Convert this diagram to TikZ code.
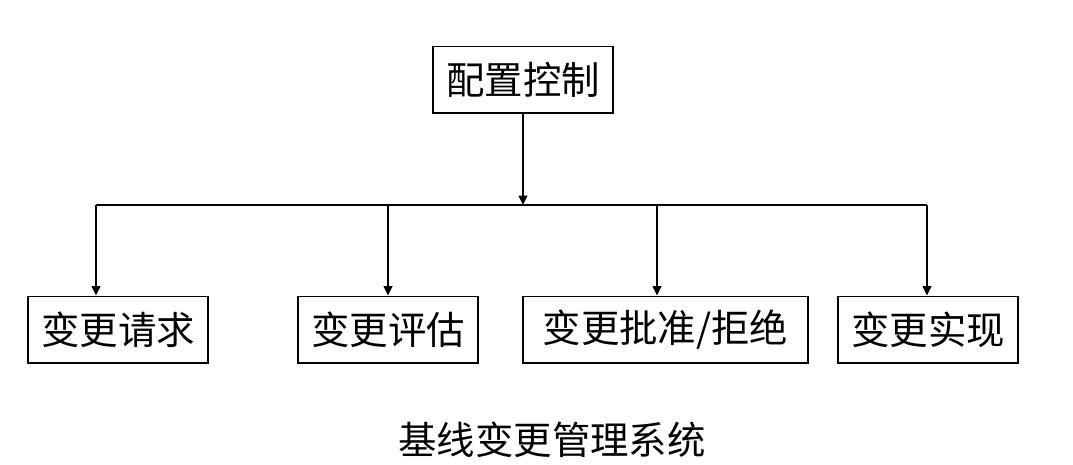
\documentclass[tikz,border=0pt]{standalone}
\usepackage{fontspec}
\setmainfont{Liberation Serif}
\newfontfamily\cjk{Noto Sans CJK SC}
\usetikzlibrary{arrows.meta}
\begin{document}
\begin{tikzpicture}[x=0.75pt,y=-0.75pt,
  box/.style={draw,line width=1pt,inner sep=0pt,minimum height=50pt,font=\cjk\fontsize{28.8}{32}\selectfont},
  conn/.style={line width=1.1pt},
  arr/.style={conn,-{Triangle[length=7pt,width=6.5pt]}},
  title/.style={font=\cjk\fontsize{28.8}{32}\selectfont}]
\useasboundingbox (0,0) rectangle (1073,464);
\node[box,minimum width=135pt] (top) at (523,79.5) {配置控制};
\node[box,minimum width=135pt] (b1) at (118,329.5) {变更请求};
\node[box,minimum width=135pt] (b2) at (388,329.5) {变更评估};
\node[box,minimum width=213.75pt] (b3) at (665.5,329.5) {变更批准/拒绝};
\node[box,minimum width=135pt] (b4) at (928,329.5) {变更实现};
\coordinate (j1) at (96,205);
\coordinate (j2) at (388,205);
\coordinate (jm) at (523,205);
\coordinate (j3) at (657,205);
\coordinate (j4) at (927,205);
\draw[conn] (j1) -- (j4);
\draw[arr] (top.south) -- (jm);
\draw[arr] (j1) -- (j1 |- b1.north);
\draw[arr] (j2) -- (j2 |- b2.north);
\draw[arr] (j3) -- (j3 |- b3.north);
\draw[arr] (j4) -- (j4 |- b4.north);
\node[title] (ttl) at (552,440) {基线变更管理系统};
\end{tikzpicture}
\end{document}
